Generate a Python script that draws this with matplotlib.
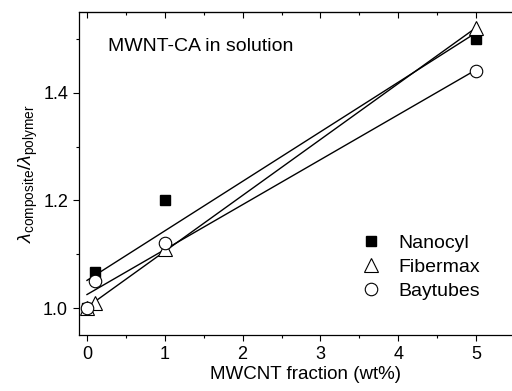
import numpy as np
import matplotlib
matplotlib.use('Agg')
import matplotlib.pyplot as plt
from matplotlib.ticker import MultipleLocator

plt.rcParams['font.family'] = ['Liberation Sans', 'DejaVu Sans']
plt.rcParams['mathtext.fontset'] = 'custom'
plt.rcParams['mathtext.rm'] = 'Liberation Sans'
plt.rcParams['mathtext.it'] = 'Liberation Sans:italic'

# data
frac = [0, 0.1, 1, 5]
nanocyl = [1.0, 1.067, 1.2, 1.50]
fibermax = [1.0, 1.01, 1.11, 1.52]
baytubes = [1.0, 1.05, 1.12, 1.44]
names = ['Nanocyl', 'Fibermax', 'Baytubes']

fig = plt.figure(figsize=(5.12, 3.91), dpi=100)
ax = fig.add_axes([0.1547, 0.1432, 0.851, 0.8261])

styles = [dict(marker='s', mfc='black', mec='black', ms=7.5),
          dict(marker='^', mfc='white', mec='black', ms=9.5, mew=0.8),
          dict(marker='o', mfc='white', mec='black', ms=9, mew=0.8)]

# linear fits through each series
xfit = np.array([0, 5])
for ys in [nanocyl, fibermax, baytubes]:
    k, b = np.polyfit(frac, ys, 1)
    ax.plot(xfit, k * xfit + b, color='black', lw=1.0, zorder=2)

for ys, st, nm in zip([nanocyl, fibermax, baytubes], styles, names):
    ax.plot(frac, ys, ls='none', label=nm, zorder=3, **st)

ax.set_xlim(-0.1, 5.5)
ax.set_ylim(0.95, 1.55)
ax.xaxis.set_major_locator(MultipleLocator(1))
ax.xaxis.set_minor_locator(MultipleLocator(0.5))
ax.yaxis.set_major_locator(MultipleLocator(0.2))
ax.yaxis.set_minor_locator(MultipleLocator(0.1))
ax.tick_params(which='both', direction='out', labelsize=13, width=0.8)
ax.tick_params(which='major', length=4, pad=4)
ax.tick_params(which='minor', length=2.5)
ax.tick_params(which='both', top=False, right=False)

# mirrored ticks on the top axis, pointing inward
sec = ax.secondary_xaxis('top')
sec.xaxis.set_major_locator(MultipleLocator(1))
sec.xaxis.set_minor_locator(MultipleLocator(0.5))
sec.tick_params(which='both', direction='in', labeltop=False, width=0.8)
sec.tick_params(which='major', length=4)
sec.tick_params(which='minor', length=2.5)

for s in ax.spines.values():
    s.set_linewidth(0.9)

ax.set_xlabel('MWCNT fraction (wt%)', fontsize=13.5, labelpad=3)
ax.xaxis.set_label_coords(0.52, -0.095)
ax.set_ylabel(r'$\lambda_{\mathrm{composite}}/\lambda_{\mathrm{polymer}}$', fontsize=14, labelpad=2)

ax.text(0.27, 1.485, 'MWNT-CA in solution', fontsize=14, va='center', ha='left')

ax.legend(loc='upper left', bbox_to_anchor=(0.63, 0.335), frameon=False,
          fontsize=14, handlelength=1.0, handletextpad=0.9, labelspacing=0.33,
          borderaxespad=0)

fig.savefig('out.png', dpi=100)
